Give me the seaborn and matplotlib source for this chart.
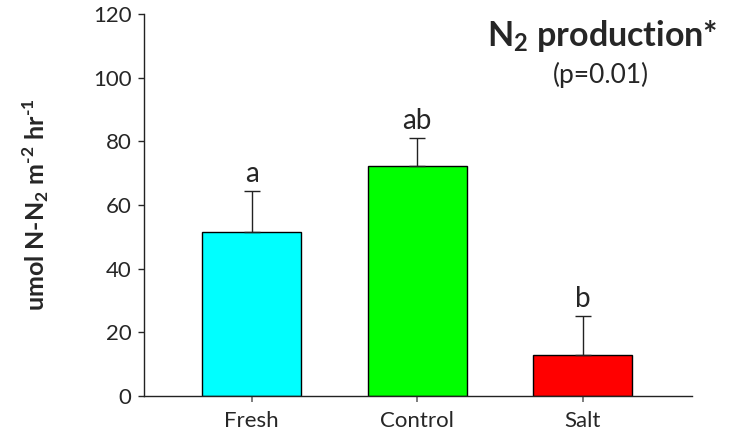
import matplotlib
matplotlib.use("Agg")
import matplotlib.pyplot as plt
import seaborn as sns
import pandas as pd

# N2 production by treatment (mean and upper standard error)
treatments = ["Fresh", "Control", "Salt"]
n2_mean = [51.6, 72.1, 13.0]
n2_err = [12.9, 9.0, 12.0]
letters = ["a", "ab", "b"]
bar_colors = ["#00FFFF", "#00FF00", "#FF0000"]
y_ticks = [0, 20, 40, 60, 80, 100, 120]

sns.set_style("ticks")
plt.rcParams["font.family"] = ["Lato", "DejaVu Sans"]
plt.rcParams["mathtext.fontset"] = "custom"
plt.rcParams["mathtext.rm"] = "Lato"
plt.rcParams["mathtext.bf"] = "Lato:bold"

df = pd.DataFrame({"treatment": treatments, "n2": n2_mean})

fig = plt.figure(figsize=(7.3, 4.43), dpi=100)
ax = fig.add_axes([144 / 730, 1 - 396 / 443, (692 - 144) / 730, (396 - 14) / 443])

sns.barplot(data=df, x="treatment", y="n2", hue="treatment", palette=bar_colors,
            order=treatments, hue_order=treatments, width=0.6, edgecolor="black",
            linewidth=1.0, saturation=1, errorbar=None, legend=False, ax=ax)

# one-sided (upper) error bars
ax.errorbar(range(len(treatments)), n2_mean, yerr=[[0] * 3, n2_err], fmt="none",
            ecolor="#222222", elinewidth=1.0, capsize=5.5, capthick=1.0, zorder=3)

# significance letters above the error bars
for i, (m, e, lab) in enumerate(zip(n2_mean, n2_err, letters)):
    ax.annotate(lab, xy=(i, m + e), xytext=(0, 3), textcoords="offset points",
                ha="center", va="bottom", fontsize=20)

ax.set_xlim(-0.65, 2.66)
ax.set_ylim(0, 120)
ax.set_yticks(y_ticks)
ax.tick_params(axis="y", direction="out", length=4, width=1, labelsize=16, pad=5)
ax.tick_params(axis="x", direction="out", length=4, width=1.2, color="#666666",
               labelsize=16, pad=7)
ax.set_xlabel("")
ax.set_ylabel("umol N-N$_\\mathbf{2}$ m$^\\mathbf{\u20102}$ hr$^\\mathbf{\u20101}$",
              fontsize=18, fontweight="bold", labelpad=30)
for s in ["top", "right"]:
    ax.spines[s].set_visible(False)
for s in ["left", "bottom"]:
    ax.spines[s].set_linewidth(1.0)
    ax.spines[s].set_color("#222222")

fig.text(602 / 730, 1 - 36 / 443, "N$_\\mathbf{2}$ production*", ha="center", va="center",
         fontsize=24.5, fontweight="bold")
fig.text(601 / 730, 1 - 75 / 443, "(p=0.01)", ha="center", va="center", fontsize=19)

fig.savefig("out.png", dpi=100)
